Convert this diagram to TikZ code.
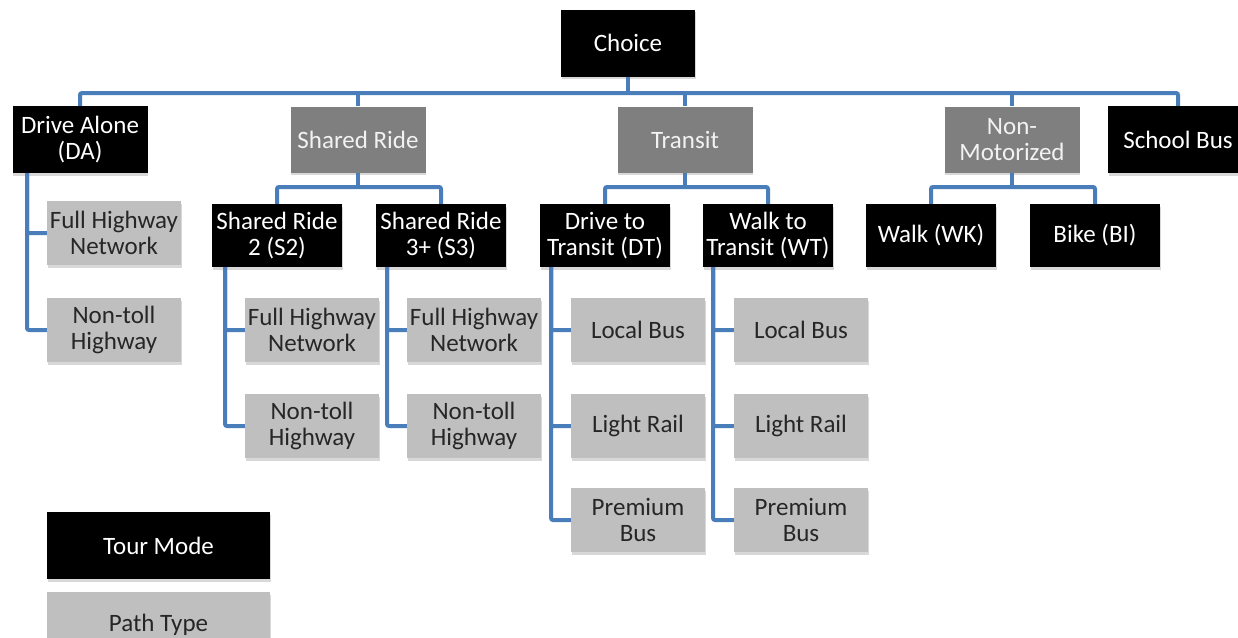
\documentclass[tikz,border=0pt]{standalone}
\usepackage{fontspec}
\setmainfont{Carlito}
\usetikzlibrary{shadows}
\definecolor{lineblue}{HTML}{4A7EBB}
\definecolor{midgray}{HTML}{7F7F7F}
\definecolor{pathgray}{HTML}{BFBFBF}
\definecolor{txtdark}{HTML}{262626}
\begin{document}
\begin{tikzpicture}[x=1pt,y=-1pt,
  base/.style={rectangle, align=center, inner sep=0pt,
    font=\fontsize{25}{26}\selectfont,
    drop shadow={opacity=0.3, shadow xshift=0.5pt, shadow yshift=-2.5pt}},
  modebox/.style={base, fill=black, text=white, minimum width=130pt, minimum height=63pt},
  groupbox/.style={base, fill=midgray, text=white!95!black, minimum width=135pt, minimum height=66pt},
  pathbox/.style={base, fill=pathgray, text=txtdark, minimum width=134pt, minimum height=64pt},
  conn/.style={draw=lineblue, line width=4pt, rounded corners=2pt}]
\clip (0,0) rectangle (1238,637);
\fill[white] (0,0) rectangle (1238,637);
% top
\node[modebox, minimum width=134pt, minimum height=67pt] (choice) at (628,43) {Choice};
% level 1
\node[modebox, minimum width=135pt, minimum height=67pt] (da) at (80,139.5) {Drive Alone\\(DA)};
\node[groupbox] (sr) at (358,139.5) {Shared Ride};
\node[groupbox] (tr) at (685,139.5) {Transit};
\node[groupbox] (nm) at (1012,139.5) {Non-\\Motorized};
\node[modebox, minimum width=140pt, minimum height=67pt] (sb) at (1178,139.5) {School Bus};
% level 2
\node[modebox] (s2) at (277,235.5) {Shared Ride\\2 (S2)};
\node[modebox] (s3) at (441,235.5) {Shared Ride\\3+ (S3)};
\node[modebox] (dt) at (605,235.5) {Drive to\\Transit (DT)};
\node[modebox] (wt) at (768,235.5) {Walk to\\Transit (WT)};
\node[modebox] (wk) at (931,235.5) {Walk (WK)};
\node[modebox] (bi) at (1095,235.5) {Bike (BI)};
% path types
\node[pathbox] (dafh) at (114,233) {Full Highway\\Network};
\node[pathbox] (dant) at (114,330) {Non-toll\\Highway};
\node[pathbox] (s2fh) at (312,330) {Full Highway\\Network};
\node[pathbox] (s2nt) at (312,426) {Non-toll\\Highway};
\node[pathbox] (s3fh) at (474,330) {Full Highway\\Network};
\node[pathbox] (s3nt) at (474,426) {Non-toll\\Highway};
\node[pathbox] (dtlb) at (638,330) {Local Bus};
\node[pathbox] (dtlr) at (638,426) {Light Rail};
\node[pathbox] (dtpb) at (638,520) {Premium\\Bus};
\node[pathbox] (wtlb) at (801,330) {Local Bus};
\node[pathbox] (wtlr) at (801,426) {Light Rail};
\node[pathbox] (wtpb) at (801,520) {Premium\\Bus};
% legend
\node[modebox, minimum width=223pt, minimum height=67pt] (legmode) at (158.5,545.5) {Tour Mode};
\node[pathbox, minimum width=223pt, minimum height=66pt] (legpath) at (158.5,625) {Path Type};
% connectors
\coordinate (bus) at (628,93);
\draw[conn] (choice.south) -- (choice.south |- bus);
\draw[conn] (da.north) |- (bus) -| (sb.north);
\foreach \n in {sr,tr,nm} \draw[conn] (\n.north) -- (\n.north |- bus);
\coordinate (srbus) at (358,187);
\coordinate (trbus) at (685,187);
\coordinate (nmbus) at (1012,187);
\draw[conn] (sr.south) -- (srbus);
\draw[conn] (s2.north) |- (srbus) -| (s3.north);
\draw[conn] (tr.south) -- (trbus);
\draw[conn] (dt.north) |- (trbus) -| (wt.north);
\draw[conn] (nm.south) -- (nmbus);
\draw[conn] (wk.north) |- (nmbus) -| (bi.north);
% spines
\coordinate (dasp) at (27,173);
\coordinate (s2sp) at (225,267);
\coordinate (s3sp) at (387,267);
\coordinate (dtsp) at (551,267);
\coordinate (wtsp) at (713,267);
\draw[conn] (dasp) |- (dafh.west);
\draw[conn] (dasp) |- (dant.west);
\draw[conn] (s2sp) |- (s2fh.west);
\draw[conn] (s2sp) |- (s2nt.west);
\draw[conn] (s3sp) |- (s3fh.west);
\draw[conn] (s3sp) |- (s3nt.west);
\draw[conn] (dtsp) |- (dtlb.west);
\draw[conn] (dtsp) |- (dtlr.west);
\draw[conn] (dtsp) |- (dtpb.west);
\draw[conn] (wtsp) |- (wtlb.west);
\draw[conn] (wtsp) |- (wtlr.west);
\draw[conn] (wtsp) |- (wtpb.west);
\end{tikzpicture}
\end{document}
